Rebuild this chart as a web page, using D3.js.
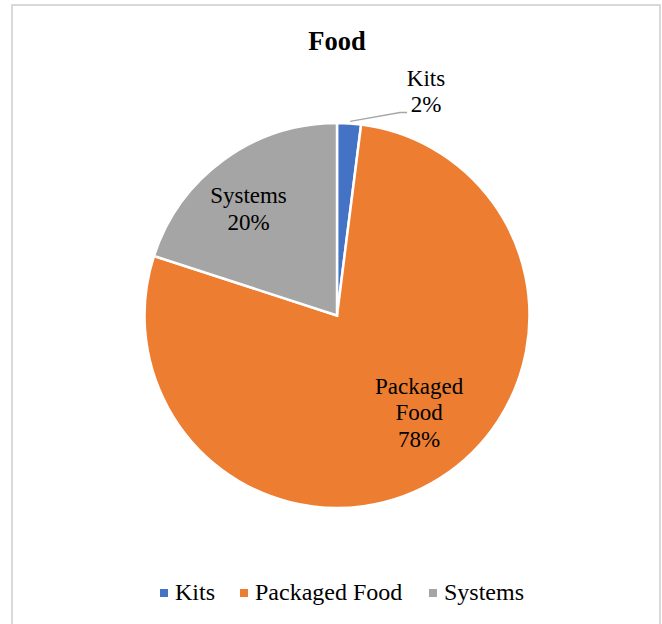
<!DOCTYPE html>
<html>
<head>
<meta charset="utf-8">
<script src="https://cdn.jsdelivr.net/npm/d3@7"></script>
<style>
  html, body { margin: 0; padding: 0; background: #fff; }
  svg { display: block; }
  text { font-family: "Liberation Serif", "Times New Roman", serif; fill: #000; }
</style>
</head>
<body>
<svg id="chart" width="662" height="624"></svg>
<script>
// Share of food products by type (%)
const categories = ["Kits", "Packaged Food", "Systems"];
const values = [2, 78, 20];
const labelLines = [["Kits", "2%"], ["Packaged", "Food", "78%"], ["Systems", "20%"]];
const colors = ["#4472C4", "#ED7D31", "#A5A5A5"];
const title = "Food";

const svg = d3.select("#chart");

// Chart frame
svg.append("rect")
  .attr("x", 12).attr("y", 5)
  .attr("width", 648).attr("height", 640)
  .attr("fill", "#fff")
  .attr("stroke", "#d9d9d9").attr("stroke-width", 2);

svg.append("text")
  .attr("x", 337).attr("y", 50)
  .attr("text-anchor", "middle")
  .attr("font-size", 26.5).attr("font-weight", "bold")
  .text(title);

const cx = 337, cy = 315.5, r = 192.5;
const g = svg.append("g").attr("transform", `translate(${cx},${cy})`);

const color = d3.scaleOrdinal().domain(categories).range(colors);
const pie = d3.pie().sort(null).value(d => d.value);
const data = categories.map((c, i) => ({ name: c, value: values[i], lines: labelLines[i] }));
const arcs = pie(data);

const arc = d3.arc().innerRadius(0).outerRadius(r);
const labelR = 133, labelTurn = -0.1;

g.selectAll("path.slice")
  .data(arcs)
  .join("path")
  .attr("class", "slice")
  .attr("d", arc)
  .attr("fill", d => color(d.data.name))
  .attr("stroke", "#fff")
  .attr("stroke-width", 2.5)
  .attr("stroke-linejoin", "miter");

const lineH = 26.5;
const fs = 23;

arcs.forEach(d => {
  const small = d.value < 5;
  const mid = (d.startAngle + d.endAngle) / 2;
  let x, y, shift;
  if (small) {
    // Outside label with a leader line for the thin slice
    const ex = Math.sin(mid) * (r + 1), ey = -Math.cos(mid) * (r + 1);
    x = 89; y = -224; shift = fs * 0.33;
    g.append("polyline")
      .attr("points", [[ex + 1, ey - 1], [x - 26, y + 21], [x - 19, y + 21]].map(p => p.join(",")).join(" "))
      .attr("fill", "none")
      .attr("stroke", "#a6a6a6").attr("stroke-width", 1.5);
  } else {
    const a = mid + labelTurn;
    x = Math.sin(a) * labelR;
    y = -Math.cos(a) * labelR;
    shift = 0;
  }
  const n = d.data.lines.length;
  const t = g.append("text")
    .attr("text-anchor", "middle")
    .attr("font-size", fs);
  d.data.lines.forEach((ln, i) => {
    t.append("tspan")
      .attr("x", x)
      .attr("y", y + (i - (n - 1) / 2) * lineH + shift)
      .text(ln);
  });
});

// Legend
const legendItems = [
  { name: "Kits", sx: 160 },
  { name: "Packaged Food", sx: 240 },
  { name: "Systems", sx: 429 }
];
const lg = svg.append("g");
legendItems.forEach(it => {
  lg.append("rect")
    .attr("x", it.sx).attr("y", 589)
    .attr("width", 8).attr("height", 8)
    .attr("fill", color(it.name));
  lg.append("text")
    .attr("x", it.sx + 15).attr("y", 599.5)
    .attr("font-size", 24)
    .text(it.name);
});
</script>
</body>
</html>
